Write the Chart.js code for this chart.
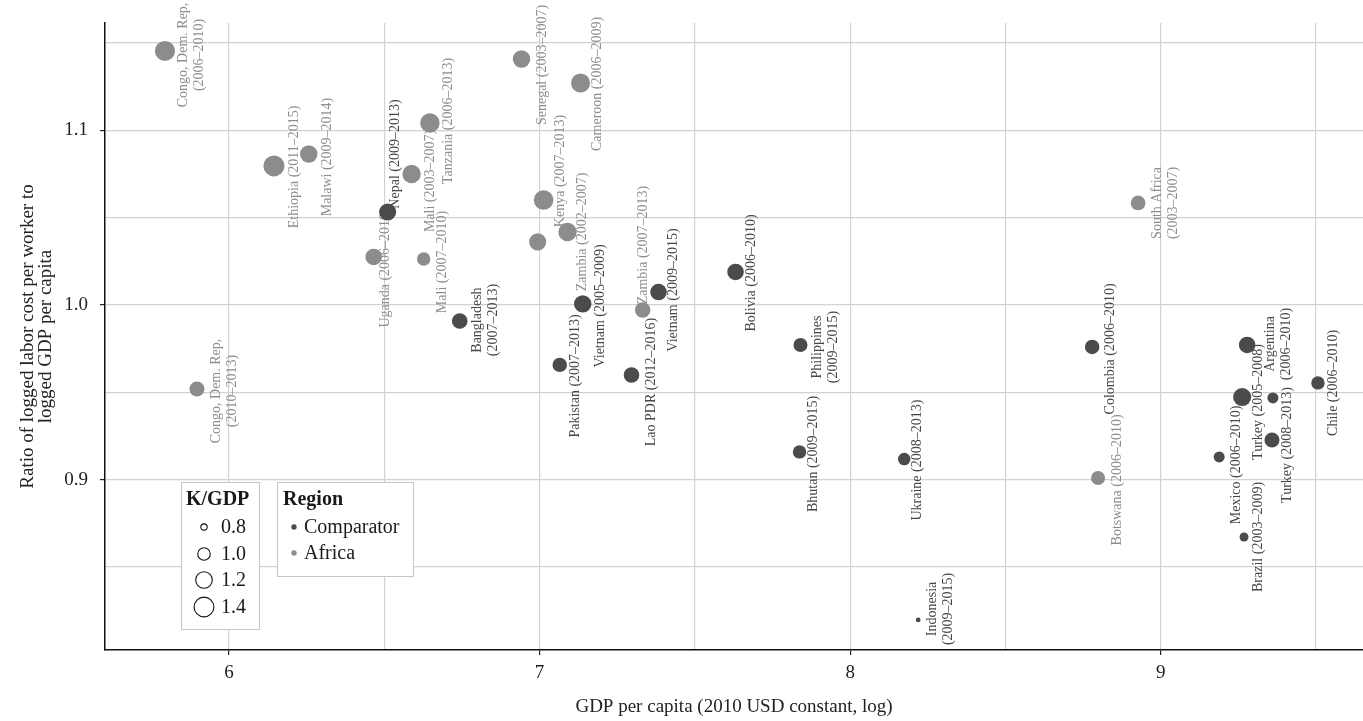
<!DOCTYPE html>
<html><head><meta charset="utf-8">
<script src="https://cdn.jsdelivr.net/npm/chart.js@4.4.1/dist/chart.umd.min.js"></script>
<style>html,body{margin:0;padding:0;background:#fff;}#wrap{width:1363px;height:721px;}</style>
</head><body><div id="wrap"><canvas id="c" width="1363" height="721"></canvas></div>
<script>
// ---------- data ----------
const names = [
  "Congo, Dem. Rep,\n(2006–2010)", "Congo, Dem. Rep,\n(2010–2013)", "Ethiopia (2011–2015)", "Malawi (2009–2014)",
  "Uganda (2006–2010)", "Mali (2003–2007)", "Mali (2007–2010)", "Tanzania (2006–2013)",
  "Senegal (2003–2007)", "Cameroon (2006–2009)", "Kenya (2007–2013)", "",
  "Zambia (2002–2007)", "Zambia (2007–2013)", "South Africa\n(2003–2007)", "Botswana (2006–2010)",
  "Nepal (2009–2013)", "Bangladesh\n(2007–2013)", "Pakistan (2007–2013)", "Vietnam (2005–2009)",
  "Lao PDR (2012–2016)", "Vietnam (2009–2015)", "Bolivia (2006–2010)", "Philippines\n(2009–2015)",
  "Bhutan (2009–2015)", "Ukraine (2008–2013)", "Indonesia\n(2009–2015)", "Colombia (2006–2010)",
  "Argentina\n(2006–2010)", "Turkey (2005–2008)", "Mexico (2006–2010)", "",
  "Turkey (2008–2013)", "Brazil (2003–2009)", "Chile (2006–2010)"
];
const regions = [
  "Africa","Africa","Africa","Africa","Africa","Africa","Africa","Africa",
  "Africa","Africa","Africa","Africa","Africa","Africa","Africa","Africa",
  "Comparator","Comparator","Comparator","Comparator","Comparator","Comparator","Comparator","Comparator",
  "Comparator","Comparator","Comparator","Comparator","Comparator","Comparator","Comparator","Comparator",
  "Comparator","Comparator","Comparator"
];
const gdpPerCapitaLog = [
  5.794, 5.897, 6.145, 6.257, 6.466, 6.588, 6.627, 6.647,
  6.942, 7.132, 7.013, 6.994, 7.090, 7.332, 8.927, 8.798,
  6.511, 6.743, 7.065, 7.139, 7.296, 7.383, 7.631, 7.840,
  7.837, 8.174, 8.219, 8.779, 9.278, 9.262, 9.188, 9.361,
  9.358, 9.268, 9.506
];
const laborRatio = [
  1.1454, 0.9519, 1.0796, 1.0864, 1.0275, 1.0750, 1.0263, 1.1042,
  1.1408, 1.1271, 1.0601, 1.0361, 1.0418, 0.9971, 1.0584, 0.9010,
  1.0532, 0.9908, 0.9657, 1.0006, 0.9599, 1.0074, 1.0189, 0.9771,
  0.9159, 0.9118, 0.8197, 0.9760, 0.9771, 0.9473, 0.9130, 0.9468,
  0.9227, 0.8672, 0.9554
];
const kToGdp = [
  1.42, 1.12, 1.49, 1.25, 1.20, 1.31, 1.04, 1.38,
  1.25, 1.35, 1.39, 1.23, 1.31, 1.14, 1.10, 1.07,
  1.23, 1.15, 1.09, 1.25, 1.15, 1.20, 1.20, 1.07,
  1.04, 1.00, 0.77, 1.09, 1.20, 1.29, 0.94, 0.94,
  1.12, 0.87, 1.04
];
const regionOrder = ["Comparator", "Africa"];
const sizeLegendValues = [0.8, 1.0, 1.2, 1.4];
const xTickValues = [6, 7, 8, 9];
const yTickValues = [0.9, 1.0, 1.1];

// ---------- styles ----------
const FONT = '"Liberation Serif", "DejaVu Serif", serif';
const regionColor = { Comparator: "#4b4b4d", Africa: "#8c8c8e" };
const labelColor = { Comparator: "#474747", Africa: "#8e8e8e" };
// label block centre offset from its point, in pixels (style only)
const labelOffsets = [
  [26,4],[27,2],[20,1],[19,3],[12,11],[19,7],[19,3],[18,-2],
  [21,6],[17,1],[17,-29],[0,0],[15,0],[1,-65],[27,0],[19,2],
  [8,-58],[26,-1],[16,11],[18,2],[20,7],[15,-2],[16,1],[25,2],
  [14,2],[13,1],[22,-11],[18,2],[31,-1],[16,5],[17,8],[0,0],
  [15,5],[14,0],[15,0]
];
function sizeToRadius(k) { return Math.sqrt(Math.max(1, 10 + 146 * (k - 0.8))); }

// ---------- datasets ----------
const datasets = regionOrder.map(reg => {
  const idx = [];
  regions.forEach((r, i) => { if (r === reg) idx.push(i); });
  return {
    label: reg,
    data: idx.map(i => ({ x: gdpPerCapitaLog[i], y: laborRatio[i] })),
    srcIndex: idx,
    backgroundColor: regionColor[reg],
    borderWidth: 0,
    pointRadius: ctx => sizeToRadius(kToGdp[idx[ctx.dataIndex]]),
    pointHoverRadius: ctx => sizeToRadius(kToGdp[idx[ctx.dataIndex]]),
    clip: false
  };
});

const near = (v, arr) => arr.some(a => Math.abs(a - v) < 1e-6);

const labelPlugin = {
  id: 'pointLabels',
  beforeDatasetsDraw(chart) {
    const ctx = chart.ctx;
    chart.data.datasets.forEach((ds, di) => {
      const meta = chart.getDatasetMeta(di);
      meta.data.forEach((pt, j) => {
        const i = ds.srcIndex[j];
        const txt = names[i];
        if (!txt) return;
        const lines = txt.split("\n");
        const off = labelOffsets[i];
        ctx.save();
        ctx.translate(pt.x + off[0], pt.y + off[1]);
        ctx.rotate(-Math.PI / 2);
        ctx.font = '14px ' + FONT;
        ctx.fillStyle = labelColor[regions[i]];
        ctx.textAlign = 'center';
        ctx.textBaseline = 'middle';
        lines.forEach((ln, k) => ctx.fillText(ln, 0, (k - (lines.length - 1) / 2) * 16));
        ctx.restore();
      });
    });
  }
};

const decorPlugin = {
  id: 'decor',
  afterDraw(chart) {
    const ctx = chart.ctx;
    const ca = chart.chartArea;
    ctx.save();
    // axis titles
    ctx.fillStyle = '#222';
    ctx.font = '19px ' + FONT;
    ctx.textAlign = 'center';
    ctx.textBaseline = 'middle';
    ctx.fillText('GDP per capita (2010 USD constant, log)', (ca.left + ca.right) / 2, 707);
    ctx.save();
    ctx.translate(37, (ca.top + ca.bottom) / 2);
    ctx.rotate(-Math.PI / 2);
    ctx.fillText('Ratio of logged labor cost per worker to', 0, -9);
    ctx.fillText('logged GDP per capita', 0, 9);
    ctx.restore();

    // size legend
    ctx.lineWidth = 1;
    ctx.strokeStyle = '#c6c6c6';
    ctx.fillStyle = '#fff';
    ctx.fillRect(181.5, 482.5, 78, 147);
    ctx.strokeRect(181.5, 482.5, 78, 147);
    ctx.fillRect(277.5, 482.5, 136, 94);
    ctx.strokeRect(277.5, 482.5, 136, 94);

    ctx.textAlign = 'left';
    ctx.fillStyle = '#1a1a1a';
    ctx.font = 'bold 20px ' + FONT;
    ctx.fillText('K/GDP', 186, 500);
    ctx.fillText('Region', 283, 500);

    ctx.font = '20px ' + FONT;
    const rows = [527, 554, 580, 607];
    sizeLegendValues.forEach((v, k) => {
      ctx.beginPath();
      ctx.arc(204, rows[k], sizeToRadius(v), 0, Math.PI * 2);
      ctx.strokeStyle = '#111';
      ctx.lineWidth = 1.1;
      ctx.stroke();
      ctx.fillStyle = '#1a1a1a';
      ctx.fillText(v.toFixed(1), 221, rows[k] + 1);
    });
    regionOrder.forEach((reg, k) => {
      const y = 527 + k * 26;
      ctx.beginPath();
      ctx.arc(294, y, 2.7, 0, Math.PI * 2);
      ctx.fillStyle = regionColor[reg];
      ctx.fill();
      ctx.fillStyle = '#1a1a1a';
      ctx.fillText(reg, 304, y + 1);
    });
    ctx.restore();
  }
};

new Chart(document.getElementById('c'), {
  type: 'scatter',
  data: { datasets },
  plugins: [labelPlugin, decorPlugin],
  options: {
    responsive: false,
    animation: false,
    layout: { autoPadding: false, padding: { top: 23, right: 0, left: 0, bottom: 0 } },
    plugins: { legend: { display: false }, tooltip: { enabled: false } },
    scales: {
      x: {
        type: 'linear', min: 5.601, max: 9.651,
        afterFit: s => { s.height = 71; s.paddingLeft = 0; s.paddingRight = 0; },
        border: { display: true, color: '#111', width: 1.5 },
        grid: {
          color: '#d2d2d2', lineWidth: 1.2, drawTicks: true, tickLength: 5,
          tickColor: c => (c.tick && near(c.tick.value, xTickValues)) ? '#222' : 'rgba(0,0,0,0)',
          tickWidth: 1.2
        },
        ticks: {
          stepSize: 0.5, includeBounds: false, autoSkip: false, maxRotation: 0,
          padding: 7, color: '#222', font: { family: FONT, size: 19 },
          callback: v => near(v, xTickValues) ? String(Math.round(v)) : ''
        }
      },
      y: {
        type: 'linear', min: 0.8025, max: 1.1614,
        afterFit: s => { s.width = 105; s.paddingTop = 0; s.paddingBottom = 0; },
        border: { display: true, color: '#111', width: 1.5 },
        grid: {
          color: '#d2d2d2', lineWidth: 1.2, drawTicks: true, tickLength: 5,
          tickColor: c => (c.tick && near(c.tick.value, yTickValues)) ? '#222' : 'rgba(0,0,0,0)',
          tickWidth: 1.2
        },
        ticks: {
          stepSize: 0.05, includeBounds: false, autoSkip: false,
          padding: 12, color: '#222', font: { family: FONT, size: 19 },
          callback: v => near(v, yTickValues) ? v.toFixed(1) : ''
        }
      }
    }
  }
});
</script>
</body></html>
